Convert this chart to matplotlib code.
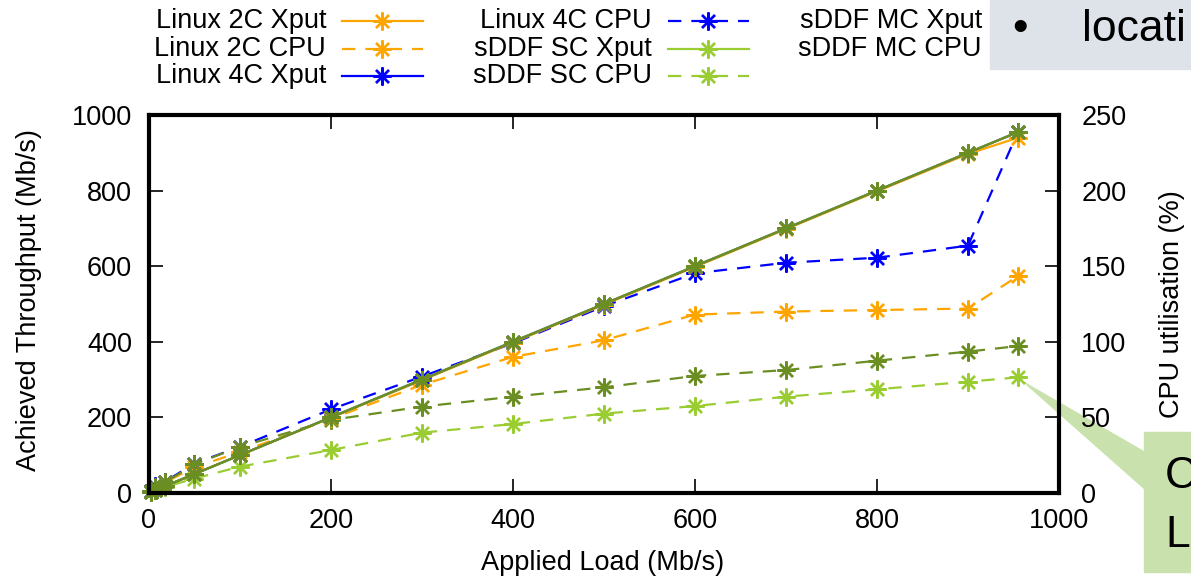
import matplotlib
matplotlib.use('Agg')
import matplotlib.pyplot as plt
from matplotlib.lines import Line2D
from matplotlib.patches import Rectangle, Polygon

plt.rcParams['font.family'] = ['Liberation Sans', 'DejaVu Sans']

# applied load (Mb/s)
load = [2, 7, 18, 50, 100, 200, 300, 400, 500, 600, 700, 800, 900, 955]

# achieved throughput (Mb/s) and cpu utilisation (%)
linux2c_xput = [2, 7, 18, 50, 100, 199, 298, 398, 498, 598, 698, 798, 897, 940]
linux2c_cpu = [1.2, 4, 7, 17, 27, 49, 71.5, 90, 101, 118, 120, 121, 122, 143.5]
linux4c_xput = [2, 7, 18, 50, 100, 200, 300, 400, 500, 600, 700, 800, 900, 955]
linux4c_cpu = [1.5, 4.8, 7.5, 19.5, 30.5, 55.3, 77, 99, 123.5, 145.3, 152.3, 155.6, 163.6, 239]
sddf_sc_xput = [2, 7, 18, 50, 100, 200, 300, 400, 500, 600, 700, 800, 900, 955]
sddf_sc_cpu = [0.8, 2, 4, 9.5, 17.4, 28.4, 39.9, 45.6, 52.5, 57.5, 63.7, 68.6, 73.6, 76.5]
sddf_mc_xput = [2, 7, 18, 50, 100, 200, 300, 400, 500, 600, 700, 800, 900, 955]
sddf_mc_cpu = [1.2, 4, 7, 19, 30.5, 48.3, 57.1, 63.7, 69.9, 77.4, 81.3, 87.5, 93.5, 97.2]

ORANGE = '#ffa500'
BLUE = '#0000ff'
LGREEN = '#9acd32'
OLIVE = '#6b8e23'

W, H = 1191, 579
FS = 19.5


def px(x):
    return x / W


def py(y):
    return 1 - y / H


fig = plt.figure(figsize=(W / 100, H / 100), dpi=100)

ax = fig.add_axes([px(148.7), py(493), (1059 - 148.7) / W, 378 / H])
ax2 = ax.twinx()
ax.set_zorder(2)
ax2.set_zorder(1)
ax.patch.set_visible(False)
ax2.patch.set_visible(False)

style = dict(marker=(8, 2, 0), ms=13, mew=1.7, lw=1.6, clip_on=False)
dash = (6, 4.5)

ax.plot(load, linux2c_xput, color=ORANGE, **style)
ax2.plot(load, linux2c_cpu, color=ORANGE, dashes=dash, **style)
ax.plot(load, linux4c_xput, color=BLUE, **style)
ax2.plot(load, linux4c_cpu, color=BLUE, dashes=dash, **style)
ax.plot(load, sddf_sc_xput, color=LGREEN, **style)
ax2.plot(load, sddf_sc_cpu, color=LGREEN, dashes=dash, **style)
ax.plot(load, sddf_mc_xput, color=OLIVE, **style)
ax2.plot(load, sddf_mc_cpu, color=OLIVE, dashes=dash, **style)

ax.set_xlim(0, 1000)
ax.set_ylim(0, 1000)
ax2.set_ylim(0, 250)
ax.set_xticks(range(0, 1001, 200))
ax.set_yticks(range(0, 1001, 200))
ax2.set_yticks(range(0, 251, 50))

ax.tick_params(axis='x', direction='in', length=10, width=1.2, top=True,
               pad=11, labelsize=FS)
ax.tick_params(axis='y', direction='in', length=10, width=1.2, right=False,
               pad=12, labelsize=FS)
ax2.tick_params(axis='y', direction='in', length=10, width=1.2, pad=16,
                labelsize=FS)
for s in ax.spines.values():
    s.set_linewidth(3)
for s in ax2.spines.values():
    s.set_visible(False)

ax.set_xlabel('Applied Load (Mb/s)', fontsize=FS)
ax.xaxis.set_label_coords(0.499, -0.152)
ax.set_ylabel('Achieved Throughput (Mb/s)', fontsize=FS)
ax.yaxis.set_label_coords(-0.117, 0.51)
ax2.set_ylabel('CPU utilisation (%)', fontsize=FS)
ax2.yaxis.set_label_coords(1.110, 0.5)

# legend, gnuplot style: right aligned text, sample to the right
entries = [
    ('Linux 2C Xput', ORANGE, None), ('Linux 2C CPU', ORANGE, dash),
    ('Linux 4C Xput', BLUE, None), ('Linux 4C CPU', BLUE, dash),
    ('sDDF SC Xput', LGREEN, None), ('sDDF SC CPU', LGREEN, dash),
    ('sDDF MC Xput', OLIVE, None), ('sDDF MC CPU', OLIVE, dash),
]
col_x = [326, 652, 982]
row_y = [21, 48.5, 76]
for i, (label, color, ls) in enumerate(entries):
    cx = col_x[i // 3]
    ry = row_y[i % 3]
    fig.text(px(cx), py(ry), label, ha='right', va='center', fontsize=FS)
    kw = dict(color=color, lw=1.6, transform=fig.transFigure, zorder=3)
    if ls is not None:
        kw['dashes'] = ls
    fig.add_artist(Line2D([px(cx + 16), px(cx + 97)], [py(ry), py(ry)], **kw))
    fig.add_artist(Line2D([px(cx + 56)], [py(ry)], color=color, marker=(8, 2, 0),
                          ms=13, mew=1.7, transform=fig.transFigure, zorder=3))

# slide leftovers around the chart
fig.add_artist(Rectangle((px(990), py(69)), (W - 990) / W, 69 / H,
                         transform=fig.transFigure, color='#dee2e9', zorder=5))
fig.text(px(1012), py(40.7), '\u2022', fontsize=32, va='baseline', zorder=6)
fig.text(px(1082), py(40.7), 'locati', fontsize=32, va='baseline', zorder=6)

callout = '#c9e2ad'
fig.add_artist(Polygon([(px(1025), py(383)), (px(1146), py(453)), (px(1146), py(490))],
                       closed=True, transform=fig.transFigure, color=callout, zorder=-1))
fig.add_artist(Rectangle((px(1144), py(572)), (W - 1144) / W, 140 / H,
                         transform=fig.transFigure, color=callout, zorder=-1))
fig.text(px(1165), py(488), 'C', fontsize=32, va='baseline')
fig.text(px(1165), py(547), 'L', fontsize=32, va='baseline')

fig.savefig('out.png', dpi=100)
